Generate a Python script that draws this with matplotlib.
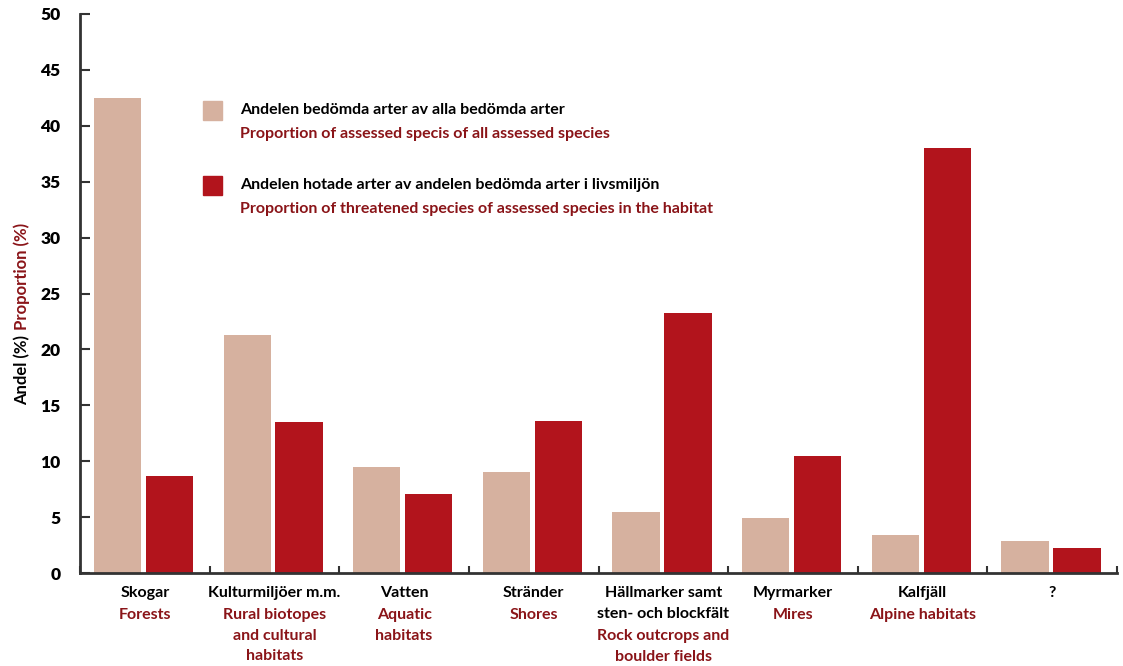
import matplotlib.pyplot as plt
import numpy as np

plt.rcParams['font.family'] = ['Lato', 'DejaVu Sans']
plt.rcParams['font.weight'] = 'bold'

# habitat labels (Swedish / English)
sv_labels = ['Skogar', 'Kulturmiljöer m.m.', 'Vatten', 'Stränder',
             'Hällmarker samt\nsten- och blockfält', 'Myrmarker', 'Kalfjäll', '?']
en_labels = ['Forests', 'Rural biotopes\nand cultural\nhabitats', 'Aquatic\nhabitats', 'Shores',
             'Rock outcrops and\nboulder fields', 'Mires', 'Alpine habitats', '']

# % of assessed species of all assessed species
assessed = [42.5, 21.3, 9.5, 9.05, 5.5, 4.9, 3.4, 2.9]
# % threatened of assessed species in habitat
threatened = [8.7, 13.5, 7.1, 13.6, 23.3, 10.5, 38.0, 2.2]

leg_sv = ['Andelen bedömda arter av alla bedömda arter',
          'Andelen hotade arter av andelen bedömda arter i livsmiljön']
leg_en = ['Proportion of assessed specis of all assessed species',
          'Proportion of threatened species of assessed species in the habitat']

beige = '#d6b19f'
red = '#b2141c'
darkred = '#8a1418'
axcol = '#333333'
fs = 11.5

fig = plt.figure(figsize=(11.23, 6.66), dpi=100)
ax = fig.add_axes([0.0712, 0.1396, 0.9235, 0.8394])

x = np.arange(len(sv_labels))
w = 0.365
ax.bar(x - 0.21, assessed, w, color=beige)
ax.bar(x + 0.19, threatened, w, color=red)

ax.set_xlim(-0.5, 7.5)
ax.set_ylim(0, 50)
ax.set_yticks(np.arange(0, 51, 5))
ax.tick_params(axis='y', direction='in', length=7, width=1.5, color=axcol,
               labelsize=12.5, pad=14)
ax.set_xticks(np.arange(-0.5, 7.6, 1))
ax.set_xticklabels([])
ax.tick_params(axis='x', direction='in', length=5, width=1.5, color=axcol)
for t in ax.get_yticklabels():
    t.set_fontweight('heavy')

for s in ['top', 'right']:
    ax.spines[s].set_visible(False)
for s in ['left', 'bottom']:
    ax.spines[s].set_color(axcol)
    ax.spines[s].set_linewidth(2)

# category labels under the axis
trans = ax.get_xaxis_transform()
for i in range(len(sv_labels)):
    nsv = sv_labels[i].count('\n') + 1
    ax.text(x[i], -0.024, sv_labels[i], transform=trans, ha='center', va='top',
            fontsize=fs, color='black', linespacing=1.6)
    if en_labels[i]:
        yoff = -0.024 - nsv * 0.0385
        ax.text(x[i], yoff, en_labels[i], transform=trans, ha='center', va='top',
                fontsize=fs, color=darkred, linespacing=1.6)

# legend drawn by hand
for k, (col, ytop) in enumerate([(beige, 101), (red, 176)]):
    fig.patches.append(plt.Rectangle((203 / 1123, 1 - (ytop + 19) / 666), 19 / 1123, 19 / 666,
                                     transform=fig.transFigure, color=col))
    fig.text(240 / 1123, 1 - (ytop + 9) / 666, leg_sv[k], fontsize=fs, color='black', va='center')
    fig.text(240 / 1123, 1 - (ytop + 33) / 666, leg_en[k], fontsize=fs, color=darkred, va='center')

# y label in two colours
fig.text(22 / 1123, 1 - 370 / 666, 'Andel (%)', rotation=90, ha='center', va='center',
         fontsize=12, color='black')
fig.text(22 / 1123, 1 - 276 / 666, 'Proportion (%)', rotation=90, ha='center', va='center',
         fontsize=12, color=darkred)

fig.savefig('out.png', dpi=100)
